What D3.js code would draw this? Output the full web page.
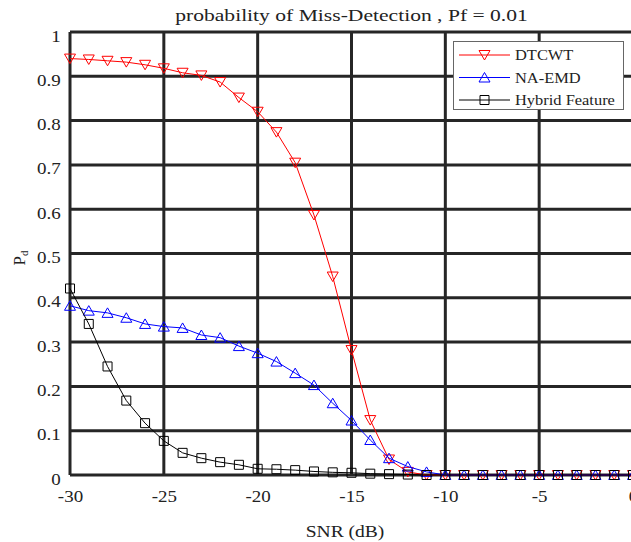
<!DOCTYPE html>
<html><head><meta charset="utf-8">
<script src="https://cdn.jsdelivr.net/npm/d3@7"></script>
<style>body{margin:0;background:#fff}svg{display:block}</style>
</head><body>
<script>
const snr = d3.range(-30, 1, 1);
const dtcwt = [0.940,0.938,0.935,0.932,0.926,0.918,0.908,0.902,0.887,0.852,0.820,0.774,0.705,0.587,0.448,0.282,0.124,0.035,0.007,0,0,0,0,0,0,0,0,0,0,0,0];
const naemd = [0.382,0.371,0.366,0.355,0.341,0.335,0.332,0.316,0.310,0.291,0.275,0.256,0.230,0.203,0.162,0.123,0.079,0.038,0.019,0.007,0,0,0,0,0,0,0,0,0,0,0];
const hybrid = [0.421,0.341,0.245,0.168,0.117,0.077,0.050,0.038,0.029,0.023,0.014,0.013,0.011,0.008,0.006,0.005,0.003,0.002,0.001,0,0,0,0,0,0,0,0,0,0,0,0];
const xTicks = [-30,-25,-20,-15,-10,-5,0];
const yTicks = [0,0.1,0.2,0.3,0.4,0.5,0.6,0.7,0.8,0.9,1];
const seriesNames = ["DTCWT","NA-EMD","Hybrid Feature"];
const title = "probability of Miss-Detection , Pf = 0.01";

const W = 631, H = 542;
const svg = d3.select("body").append("svg").attr("width", W).attr("height", H);
const x = d3.scaleLinear().domain([-30, 0]).range([70, 633]);
const y = d3.scaleLinear().domain([0, 1]).range([475, 32]);
const font = "'Liberation Serif', 'Times New Roman', serif";
const gridCol = "#262626";
const txtCol = "#222";

// grid
const g = svg.append("g");
g.selectAll(".vg").data(xTicks).join("line")
  .attr("x1", d => x(d)).attr("x2", d => x(d)).attr("y1", y(0)).attr("y2", y(1))
  .attr("stroke", gridCol).attr("stroke-width", 3);
g.selectAll(".hg").data(yTicks).join("line")
  .attr("x1", x(-30)).attr("x2", x(0)).attr("y1", d => y(d)).attr("y2", d => y(d))
  .attr("stroke", gridCol).attr("stroke-width", 3);

// axes via d3 axes
const xAxis = d3.axisBottom(x).tickValues(xTicks).tickSize(0).tickPadding(0).tickFormat(d => String(d));
const xa = svg.append("g").attr("transform", `translate(0,${y(0)})`).call(xAxis);
xa.select(".domain").remove();
xa.selectAll("text").attr("y", 27).attr("dy", 0)
  .attr("font-family", font).attr("font-size", 16.5).attr("fill", txtCol)
  .attr("transform", "scale(1.15,1)");
const yAxis = d3.axisLeft(y).tickValues(yTicks).tickSize(0).tickPadding(0)
  .tickFormat(d => (d === 0 || d === 1) ? String(d) : d.toFixed(1));
const ya = svg.append("g").attr("transform", `translate(${x(-30)},0)`).call(yAxis);
ya.select(".domain").remove();
ya.selectAll("text").attr("x", -8).attr("dy", 0).attr("y", 9)
  .attr("font-family", font).attr("font-size", 16.5).attr("fill", txtCol)
  .attr("transform", "scale(1.15,1)");

function stretchedText(px, py, sx, size, anchor, str) {
  return svg.append("text").attr("transform", `translate(${px},${py}) scale(${sx},1)`)
    .attr("text-anchor", anchor).attr("font-family", font).attr("font-size", size)
    .attr("fill", txtCol).text(str);
}
// title and axis labels
stretchedText(351.5, 21, 1.3, 16.6, "middle", title);
stretchedText(345, 537, 1.15, 17, "middle", "SNR (dB)");
const yl = svg.append("text").attr("transform", "translate(25,258) rotate(-90)").attr("text-anchor", "middle")
  .attr("font-family", font).attr("font-size", 17).attr("fill", txtCol);
yl.append("tspan").text("P");
yl.append("tspan").attr("font-size", 11).attr("dy", 3).text("d");

// series
const series = [
  {name: seriesNames[0], vals: dtcwt, color: "#ff0000", marker: "down"},
  {name: seriesNames[1], vals: naemd, color: "#0000ff", marker: "up"},
  {name: seriesNames[2], vals: hybrid, color: "#000000", marker: "square"}
];
function markerPath(type, cx, cy) {
  if (type === "down") return `M${cx-5.5},${cy-4.5}L${cx+5.5},${cy-4.5}L${cx},${cy+5}Z`;
  if (type === "up") return `M${cx-5.5},${cy+4.5}L${cx+5.5},${cy+4.5}L${cx},${cy-5}Z`;
  return `M${cx-4.5},${cy-4.5}h9v9h-9Z`;
}
const line = d3.line().x((d, i) => x(snr[i])).y(d => y(d));
series.forEach(s => {
  svg.append("path").datum(s.vals).attr("d", line).attr("fill", "none")
    .attr("stroke", s.color).attr("stroke-width", 1);
  svg.append("g").selectAll("path").data(s.vals).join("path")
    .attr("d", (d, i) => markerPath(s.marker, x(snr[i]), y(d)))
    .attr("fill", "none").attr("stroke", s.color).attr("stroke-width", 1);
});

// legend
const lg = svg.append("g");
lg.append("rect").attr("x", 453.5).attr("y", 41.5).attr("width", 170).attr("height", 68)
  .attr("fill", "#fff").attr("stroke", "#666").attr("stroke-width", 1);
series.forEach((s, i) => {
  const ly = 55 + i * 22.5;
  lg.append("line").attr("x1", 459).attr("x2", 510).attr("y1", ly).attr("y2", ly)
    .attr("stroke", s.color).attr("stroke-width", 1);
  lg.append("path").attr("d", markerPath(s.marker, 484.5, ly)).attr("fill", "none").attr("stroke", s.color);
  lg.append("text").attr("transform", `translate(515,${ly + 5}) scale(1.06,1)`)
    .attr("font-family", font).attr("font-size", 15.5).attr("fill", txtCol).text(s.name);
});
</script>
</body></html>
